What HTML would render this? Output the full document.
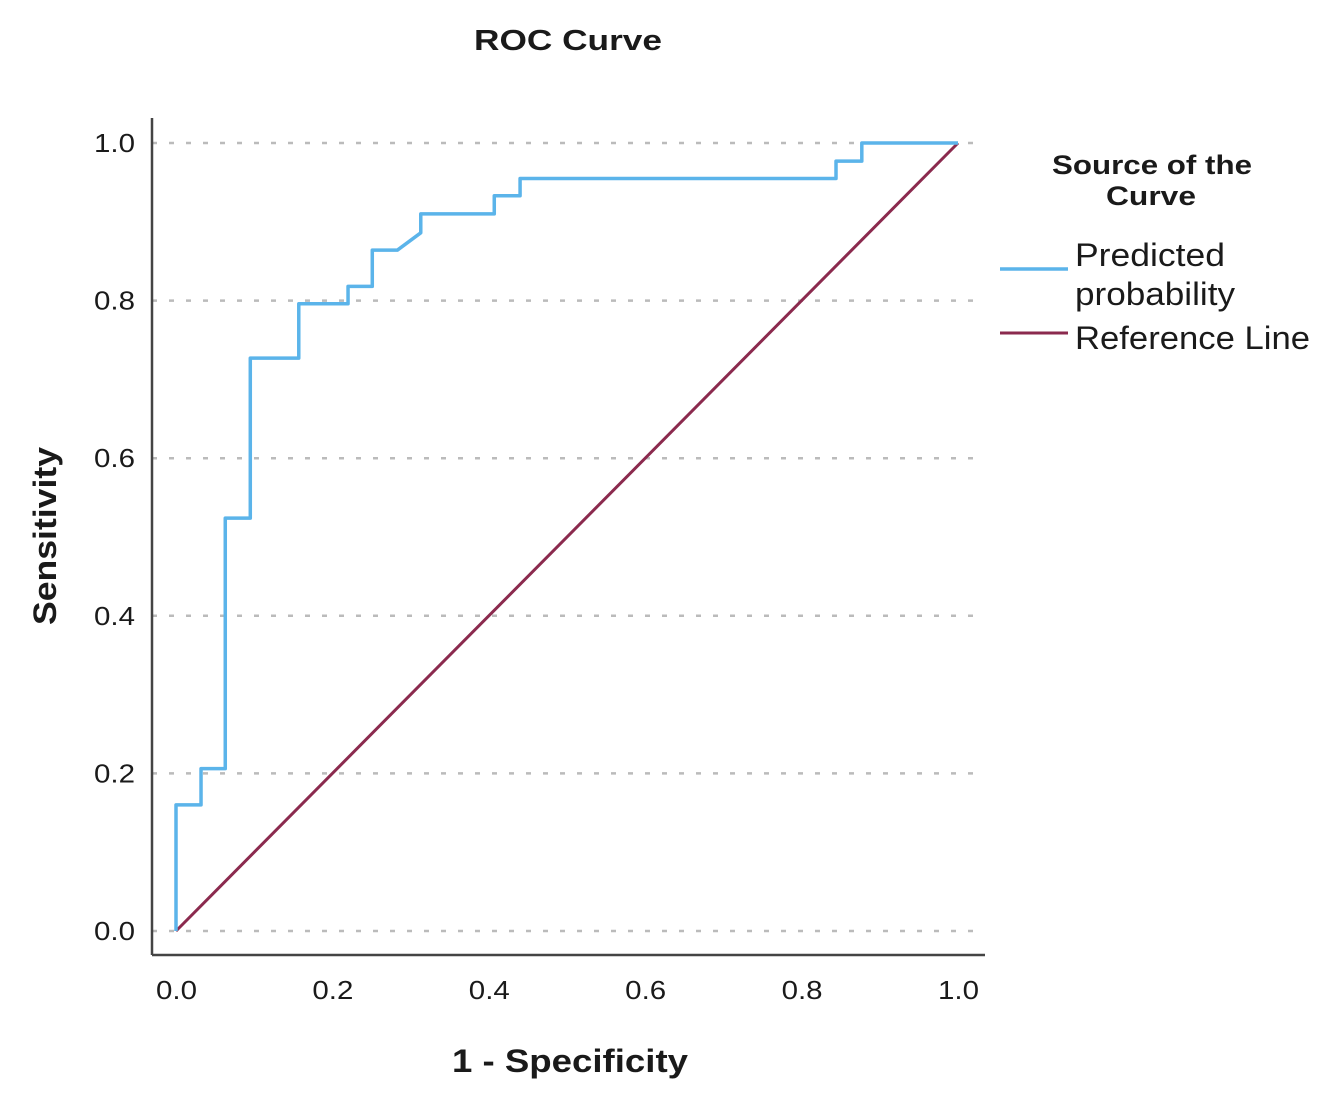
<!DOCTYPE html>
<html><head><meta charset="utf-8"><style>
body{margin:0;background:#fff}
svg text{font-family:"Liberation Sans",Arial,sans-serif;fill:#1a1a1a}
</style></head><body>
<svg width="1324" height="1100" viewBox="0 0 1324 1100">
<text x="474" y="50" font-size="29" font-weight="bold" textLength="188" lengthAdjust="spacingAndGlyphs">ROC Curve</text>
<g id="grid"></g>
<g id="yticks"></g>
<g id="xticks"></g>
<line x1="152" y1="118" x2="152" y2="955" stroke="#444" stroke-width="2.5"/>
<line x1="152" y1="955" x2="985" y2="955" stroke="#444" stroke-width="2.5"/>
<path id="refline" fill="none" stroke="#8b2a4e" stroke-width="3"/>
<path id="roc" fill="none" stroke="#5bb4ea" stroke-width="3.5" stroke-linejoin="round"/>
<text x="452" y="1072" font-size="32" font-weight="bold" textLength="236" lengthAdjust="spacingAndGlyphs">1 - Specificity</text>
<text transform="translate(56,625) rotate(-90)" font-size="32" font-weight="bold" textLength="178" lengthAdjust="spacingAndGlyphs">Sensitivity</text>
<g>
<text x="1052" y="174" font-size="27" font-weight="bold" textLength="200" lengthAdjust="spacingAndGlyphs">Source of the</text>
<text x="1106" y="205" font-size="27" font-weight="bold" textLength="90" lengthAdjust="spacingAndGlyphs">Curve</text>
<line x1="1000" y1="269" x2="1068" y2="269" stroke="#5bb4ea" stroke-width="3.5"/>
<text x="1075" y="266" font-size="32" textLength="150" lengthAdjust="spacingAndGlyphs">Predicted</text>
<text x="1075" y="305" font-size="32" textLength="160" lengthAdjust="spacingAndGlyphs">probability</text>
<line x1="1000" y1="333" x2="1068" y2="333" stroke="#8b2a4e" stroke-width="3"/>
<text x="1075" y="349" font-size="32" textLength="235" lengthAdjust="spacingAndGlyphs">Reference Line</text>
</g>
</svg>
<script>
const fpr=[0,0,0.032,0.032,0.063,0.063,0.095,0.095,0.157,0.157,0.22,0.22,0.251,0.251,0.283,0.313,0.313,0.407,0.407,0.44,0.44,0.844,0.844,0.877,0.877,1];
const tpr=[0,0.16,0.16,0.206,0.206,0.524,0.524,0.727,0.727,0.796,0.796,0.818,0.818,0.864,0.864,0.886,0.91,0.91,0.933,0.933,0.955,0.955,0.977,0.977,1,1];
const refX=[0,1];
const refY=[0,1];
const yTicks=[0,0.2,0.4,0.6,0.8,1.0];
const xTicks=[0,0.2,0.4,0.6,0.8,1.0];
const NS="http://www.w3.org/2000/svg";
function sx(v){return 176+v*782;}
function sy(v){return 931-v*788;}
const grid=document.getElementById('grid'),yt=document.getElementById('yticks'),xt=document.getElementById('xticks');
yTicks.forEach(t=>{
  const l=document.createElementNS(NS,'line');
  
  
  l.setAttribute('x1',152);l.setAttribute('x2',985);l.setAttribute('y1',sy(t));l.setAttribute('y2',sy(t));
  l.setAttribute('stroke','#bbb');l.setAttribute('stroke-width','2.5');l.setAttribute('stroke-dasharray','5 12');
  grid.appendChild(l);
  const tx=document.createElementNS(NS,'text');
  
  
  tx.setAttribute('x',94);tx.setAttribute('y',sy(t)+9);tx.setAttribute('font-size','26');
  tx.setAttribute('textLength','41');tx.setAttribute('lengthAdjust','spacingAndGlyphs');
  tx.textContent=t.toFixed(1);yt.appendChild(tx);
});
xTicks.forEach(t=>{
  const tx=document.createElementNS(NS,'text');
  
  
  tx.setAttribute('x',sx(t)-20);tx.setAttribute('y',999);tx.setAttribute('font-size','26');
  tx.setAttribute('textLength','41');tx.setAttribute('lengthAdjust','spacingAndGlyphs');
  tx.textContent=t.toFixed(1);xt.appendChild(tx);
});
document.getElementById('roc').setAttribute('d',fpr.map((v,i)=>(i?'L':'M')+sx(v)+' '+sy(tpr[i])).join(' '));
document.getElementById('refline').setAttribute('d',refX.map((v,i)=>(i?'L':'M')+sx(v)+' '+sy(refY[i])).join(' '));
</script>
</body></html>
